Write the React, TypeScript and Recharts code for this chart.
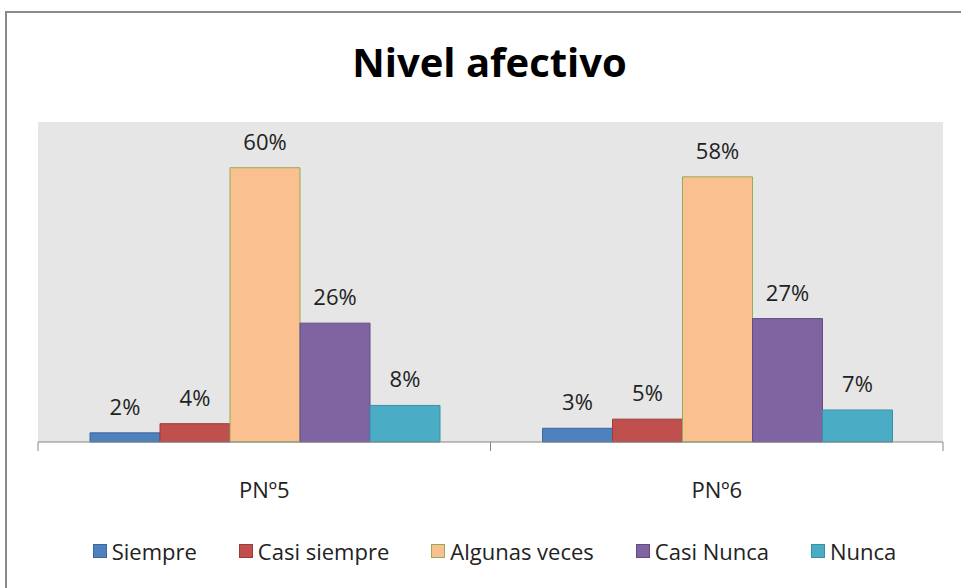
import { Bar, BarChart, CartesianGrid, LabelList, XAxis, YAxis } from "recharts"

const categories = ["PNº5", "PNº6"]
const siempre = [2, 3]
const casiSiempre = [4, 5]
const algunasVeces = [60, 58]
const casiNunca = [26, 27]
const nunca = [8, 7]

const seriesKeys = ["siempre", "casiSiempre", "algunasVeces", "casiNunca", "nunca"]
const seriesNames = ["Siempre", "Casi siempre", "Algunas veces", "Casi Nunca", "Nunca"]
const seriesFill = ["#4F81BD", "#C0504D", "#FAC090", "#8064A2", "#4BACC6"]
const seriesStroke = ["#3A67A0", "#9C3B38", "#8FAE57", "#634C84", "#3891A9"]

const data = categories.map((name, i) => ({
  name,
  siempre: siempre[i],
  casiSiempre: casiSiempre[i],
  algunasVeces: algunasVeces[i],
  casiNunca: casiNunca[i],
  nunca: nunca[i],
}))

const W = 961
const H = 588
const X_AXIS_H = 30
// plot area: x 38..943, y 122..442
const margin = { top: 122, right: 18, bottom: 146 - X_AXIS_H, left: 38 }
const font = "'Open Sans', 'Noto Sans', sans-serif"

// Excel style: tick marks sit on the category boundaries, not the centers
const CategoryTick = (props: any) => {
  const { x, y, payload } = props
  const half = (W - margin.left - margin.right) / categories.length / 2
  return (
    <g>
      <line x1={x - half} y1={y} x2={x - half} y2={y + 9} stroke="#868686" />
      <line x1={x + half} y1={y} x2={x + half} y2={y + 9} stroke="#868686" />
      <text x={x} y={y + 56} textAnchor="middle" fontSize={22} fill="#222" fontFamily={font}>
        {payload.value}
      </text>
    </g>
  )
}

const ChartLegend = () => (
  <div
    style={{
      position: "absolute",
      top: 536,
      left: 0,
      width: W,
      paddingLeft: 28,
      boxSizing: "border-box",
      display: "flex",
      justifyContent: "center",
      gap: 42,
      fontFamily: font,
      fontSize: 22,
      color: "#222",
    }}
  >
    {seriesNames.map((n, i) => (
      <div key={n} style={{ display: "flex", alignItems: "center", gap: 5 }}>
        <span
          style={{
            display: "inline-block",
            width: 12,
            height: 12,
            background: seriesFill[i],
            border: `1px solid ${seriesStroke[i]}`,
          }}
        />
        <span>{n}</span>
      </div>
    ))}
  </div>
)

export default function App() {
  return (
    <div style={{ position: "fixed", inset: 0, overflow: "hidden", background: "#fff" }}>
      <div
        style={{
          position: "absolute",
          left: 5,
          top: 11,
          width: 1000,
          height: 700,
          border: "2px solid #8a8a8a",
          boxSizing: "border-box",
        }}
      />
      <div
        style={{
          position: "absolute",
          left: 0,
          top: 34,
          width: W,
          textAlign: "center",
          fontFamily: font,
          fontWeight: 700,
          fontSize: 40,
          lineHeight: "56px",
          color: "#000",
        }}
      >
        <span style={{ marginLeft: 18 }}>Nivel afectivo</span>
      </div>
      <div style={{ position: "absolute", left: 0, top: 0 }}>
        <BarChart width={W} height={H} data={data} margin={margin} barGap={0} barCategoryGap={52}>
          <CartesianGrid fill="#E6E6E6" stroke="none" horizontal={false} vertical={false} />
          <XAxis
            dataKey="name"
            height={X_AXIS_H}
            axisLine={{ stroke: "#868686" }}
            tickLine={false}
            tickSize={0}
            tickMargin={0}
            tick={<CategoryTick />}
            interval={0}
          />
          <YAxis hide domain={[0, 70]} ticks={[0, 10, 20, 30, 40, 50, 60, 70]} />
          {seriesKeys.map((k, i) => (
            <Bar
              key={k}
              dataKey={k}
              name={seriesNames[i]}
              fill={seriesFill[i]}
              stroke={seriesStroke[i]}
              strokeWidth={1}
              isAnimationActive={false}
            >
              <LabelList
                dataKey={k}
                position="top"
                offset={18}
                formatter={(v: any) => `${v}%`}
                fontSize={22}
                fill="#222"
                fontFamily={font}
              />
            </Bar>
          ))}
        </BarChart>
      </div>
      <ChartLegend />
    </div>
  )
}
